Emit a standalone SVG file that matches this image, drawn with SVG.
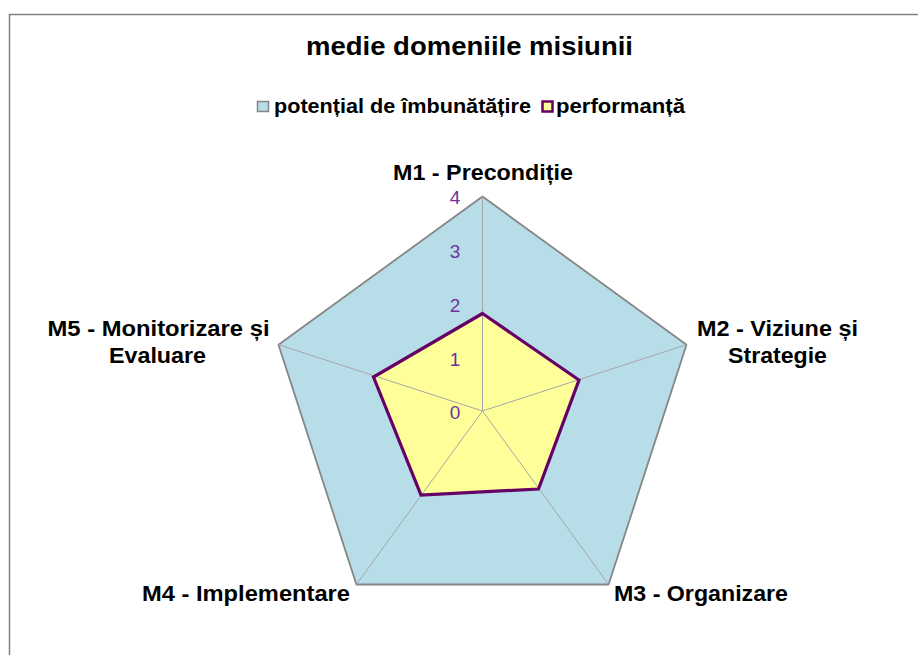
<svg xmlns="http://www.w3.org/2000/svg" width="918" height="655" viewBox="0 0 918 655">
<style>
.lbl{font-family:"Liberation Sans",Arial,sans-serif;font-weight:bold;font-size:22px;fill:#000}
.ttl{font-family:"Liberation Sans",Arial,sans-serif;font-weight:bold;font-size:25px;fill:#000}
.leg{font-family:"Liberation Sans",Arial,sans-serif;font-weight:bold;font-size:20px;fill:#000}
.tick{font-family:"Liberation Sans",Arial,sans-serif;font-size:19px;fill:#7030A0;text-anchor:middle}
.spoke{stroke:#A6A6A6;stroke-width:1;fill:none}
</style>
<rect width="918" height="655" fill="#fff"/>
<g id="frame"><path d="M9.5 660 V14.5 H925" fill="none" stroke="#808080" stroke-width="1.5"/></g>
<g id="title"><text class="ttl" x="306" y="55" textLength="327" lengthAdjust="spacingAndGlyphs">medie domeniile misiunii</text></g>
<g id="legend">
<rect x="257.5" y="101.5" width="11" height="10" fill="#B7DDE8" stroke="#868686" stroke-width="1.5"/>
<text class="leg" x="274" y="112.5" textLength="257" lengthAdjust="spacingAndGlyphs">potențial de îmbunătățire</text>
<rect x="542.5" y="101.5" width="10" height="10" fill="#FFFF99" stroke="#660066" stroke-width="2.5"/>
<text class="leg" x="556" y="112.5" textLength="129" lengthAdjust="spacingAndGlyphs">performanță</text>
</g>
<g id="series-potential"><polygon points="482.5,196.5 686.5,344.7 608.6,584.5 356.4,584.5 278.5,344.7" fill="#B7DDE8" stroke="#868686" stroke-width="1.8" stroke-linejoin="round"/></g>
<g id="series-performanta"><polygon points="482.5,313.5 579,380 538.5,489 421,495 373.5,377" fill="#FFFF99"/></g>
<g id="connectors">
<line class="spoke" x1="482.5" y1="411" x2="482.5" y2="196.5"/>
<line class="spoke" x1="482.5" y1="411" x2="686.5" y2="344.7"/>
<line class="spoke" x1="482.5" y1="411" x2="608.6" y2="584.5"/>
<line class="spoke" x1="482.5" y1="411" x2="356.4" y2="584.5"/>
<line class="spoke" x1="482.5" y1="411" x2="278.5" y2="344.7"/>
</g>
<g id="series-performanta-line"><polygon points="482.5,313.5 579,380 538.5,489 421,495 373.5,377" fill="none" stroke="#660066" stroke-width="3.2" stroke-linejoin="miter"/></g>
<g id="ticks">
<text class="tick" x="455" y="203.5">4</text>
<text class="tick" x="455" y="257.5">3</text>
<text class="tick" x="455" y="312">2</text>
<text class="tick" x="455" y="366">1</text>
<text class="tick" x="455" y="418.5">0</text>
</g>
<g id="M1"><text class="lbl" x="393" y="180" textLength="180" lengthAdjust="spacingAndGlyphs">M1 - Precondiție</text></g>
<g id="M2">
<text class="lbl" x="697" y="336" textLength="161" lengthAdjust="spacingAndGlyphs">M2 - Viziune și</text>
<text class="lbl" x="728" y="363.3" textLength="99" lengthAdjust="spacingAndGlyphs">Strategie</text>
</g>
<g id="M3"><text class="lbl" x="614" y="601" textLength="174" lengthAdjust="spacingAndGlyphs">M3 - Organizare</text></g>
<g id="M4"><text class="lbl" x="142" y="601" textLength="208" lengthAdjust="spacingAndGlyphs">M4 - Implementare</text></g>
<g id="M5">
<text class="lbl" x="47.5" y="336" textLength="222" lengthAdjust="spacingAndGlyphs">M5 - Monitorizare și</text>
<text class="lbl" x="109" y="363.3" textLength="97" lengthAdjust="spacingAndGlyphs">Evaluare</text>
</g>
</svg>
